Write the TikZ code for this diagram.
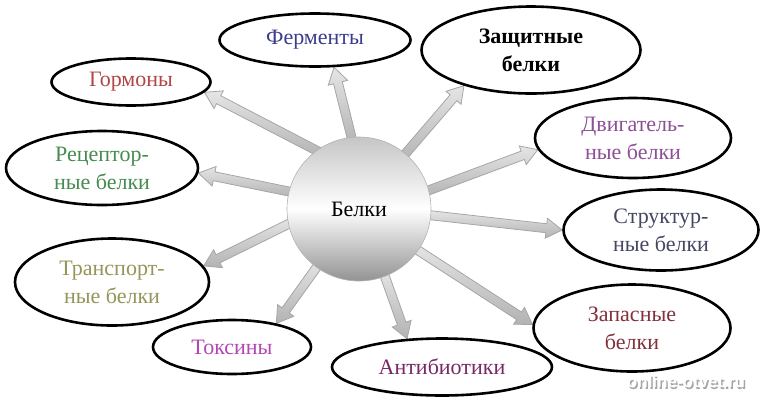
\documentclass[tikz,border=0pt]{standalone}
\usepackage{fontspec}
\setmainfont{Liberation Serif}
\setsansfont{Liberation Sans}
\usetikzlibrary{calc,shapes.geometric}
\pgfdeclarelayer{bg}
\pgfsetlayers{bg,main}
\definecolor{cGorm}{RGB}{178,70,70}
\definecolor{cFerm}{RGB}{60,60,140}
\definecolor{cDvig}{RGB}{140,80,150}
\definecolor{cRecep}{RGB}{70,140,80}
\definecolor{cStruct}{RGB}{70,70,100}
\definecolor{cTransp}{RGB}{150,150,90}
\definecolor{cToks}{RGB}{180,70,180}
\definecolor{cAntib}{RGB}{120,40,100}
\definecolor{cZapas}{RGB}{130,50,60}
\tikzset{
  oval/.style={ellipse, draw=black, line width=2.6pt, fill=white, inner sep=0pt,
    align=center, font=\fontsize{22}{28}\selectfont},
  ball/.style={circle, inner sep=0pt, minimum size=144pt, draw=gray!60, line width=0.6pt,
    top color=gray!45, bottom color=gray!85, middle color=white,
    font=\fontsize{22}{28}\selectfont},
  blk/.style={top color=gray!20, bottom color=gray!60, draw=gray!70, line width=0.8pt},
}
\newcommand{\blkarrow}[2]{%
  \coordinate (bs) at ($(#1)!-8pt!(#2)$);
  \coordinate (bh) at ($(#2)!16pt!(#1)$);
  \path[blk] ($(bs)!4.5pt!90:(#2)$) -- ($(bh)!4.5pt!90:(#2)$) -- ($(bh)!10pt!90:(#2)$)
    -- (#2) -- ($(bh)!10pt!-90:(#2)$) -- ($(bh)!4.5pt!-90:(#2)$)
    -- ($(bs)!4.5pt!-90:(#2)$) -- cycle;
}
\begin{document}
\begin{tikzpicture}[x=1pt,y=-1pt]
\useasboundingbox (0,0) rectangle (763,400);
\node[oval, minimum width=191pt, minimum height=53pt, text=cFerm] (ferm) at (315,40) {Ферменты};
\node[oval, minimum width=159pt, minimum height=47pt, text=cGorm] (gorm) at (131,82) {Гормоны};
\node[oval, minimum width=219pt, minimum height=87pt, font=\fontsize{22}{28}\selectfont\bfseries] (zasch) at (531,50) {Защитные\\белки};
\node[oval, minimum width=196pt, minimum height=80pt, text=cDvig] (dvig) at (633,138) {Двигатель-\\ные белки};
\node[oval, minimum width=192pt, minimum height=74pt, text=cRecep] (recep) at (102,168) {Рецептор-\\ные белки};
\node[oval, minimum width=195pt, minimum height=81pt, text=cStruct] (struct) at (661,230) {Структур-\\ные белки};
\node[oval, minimum width=194pt, minimum height=87pt, text=cTransp] (transp) at (112,282) {Транспорт-\\ные белки};
\node[oval, minimum width=158pt, minimum height=54pt, text=cToks] (toks) at (232,347) {Токсины};
\node[oval, minimum width=220pt, minimum height=57pt, text=cAntib] (antib) at (442,367) {Антибиотики};
\node[oval, minimum width=197pt, minimum height=87pt, text=cZapas] (zapas) at (632,328) {Запасные\\белки};
\node[ball] (c) at (359,209) {Белки};
\begin{pgfonlayer}{bg}
\blkarrow{c.126}{gorm.352}
\blkarrow{c.96}{ferm.305}
\blkarrow{c.50}{zasch.208}
\blkarrow{c.15}{dvig.187}
\blkarrow{c.166}{recep.357}
\blkarrow{c.355}{struct.180}
\blkarrow{c.192}{transp.10}
\blkarrow{c.234}{toks.28}
\blkarrow{c.291}{antib.141}
\blkarrow{c.325}{zapas.178}
\end{pgfonlayer}
\node[font=\fontsize{17}{20}\selectfont\sffamily\bfseries, text=gray!70] (wms) at (687.5,383) {online-otvet.ru};
\node[font=\fontsize{17}{20}\selectfont\sffamily\bfseries, text=white] (wm) at (686,381.5) {online-otvet.ru};
\end{tikzpicture}
\end{document}
